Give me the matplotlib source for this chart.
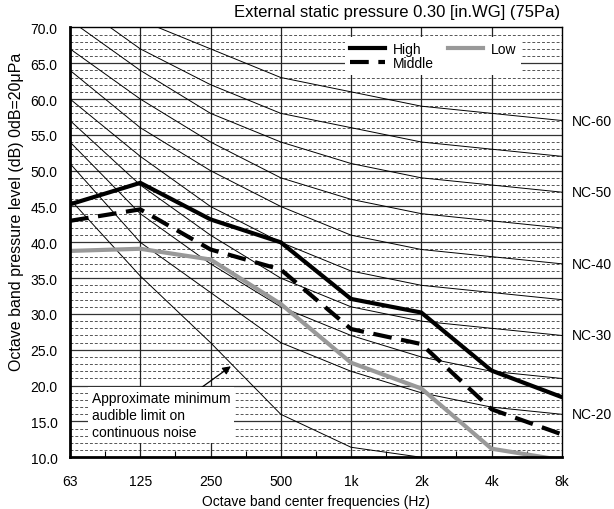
import matplotlib
matplotlib.use("Agg")
import matplotlib.pyplot as plt
import numpy as np

plt.rcParams['font.family'] = ['Liberation Sans', 'DejaVu Sans']

# octave bands
bands = ['63', '125', '250', '500', '1k', '2k', '4k', '8k']

# measured levels
high = [45.3, 48.3, 43.2, 40.0, 32.1, 30.2, 22.1, 18.4]
middle = [43.0, 44.6, 39.0, 36.2, 27.9, 25.8, 16.7, 13.2]
low = [38.8, 39.1, 37.6, 31.4, 23.2, 19.6, 11.2, 9.6]

# NC reference curves
nc_names = ['NC-20', 'NC-25', 'NC-30', 'NC-35', 'NC-40', 'NC-45', 'NC-50', 'NC-55', 'NC-60']
nc20 = [51, 40, 33, 26, 22, 19, 17, 16]
nc25 = [54, 44, 37, 31, 27, 24, 22, 21]
nc30 = [57, 48, 41, 35, 31, 29, 28, 27]
nc35 = [60, 52, 45, 40, 36, 34, 33, 32]
nc40 = [64, 56, 50, 45, 41, 39, 38, 37]
nc45 = [67, 60, 54, 49, 46, 44, 43, 42]
nc50 = [71, 64, 58, 54, 51, 49, 48, 47]
nc55 = [74, 67, 62, 58, 56, 54, 53, 52]
nc60 = [77, 71, 67, 63, 61, 59, 58, 57]
nc_curves = [nc20, nc25, nc30, nc35, nc40, nc45, nc50, nc55, nc60]
nc_labeled = ['NC-20', 'NC-30', 'NC-40', 'NC-50', 'NC-60']

# approximate minimum audible limit
audible = [46.0, 35.3, 26.0, 16.0, 11.4, 10.0]

x = np.arange(len(bands))

fig = plt.figure(figsize=(6.14, 5.10), dpi=100)
ax = fig.add_axes([0.114, 0.1014, 0.801, 0.843])

ax.set_xlim(0, 7)
ax.set_ylim(10, 70)

# grid
for v in range(11, 70):
    if v % 5 == 0:
        ax.axhline(v, color='#333333', lw=0.9, zorder=1)
    else:
        ax.axhline(v, color='#555555', lw=0.7, ls=(0, (3, 2)), zorder=1)
for xi in x[1:-1]:
    ax.axvline(xi, color='#222222', lw=0.9, zorder=1)

for name, vals in zip(nc_names, nc_curves):
    ax.plot(x, vals, color='black', lw=0.7, zorder=2)
    if name in nc_labeled:
        ax.text(7.15, vals[-1], name, fontsize=10, va='center', ha='left', clip_on=False)

ax.plot(x[:len(audible)], audible, color='black', lw=0.7, zorder=2)

l_low, = ax.plot(x, low, color='#999999', lw=3, solid_joinstyle='miter', zorder=3, label='Low')
l_mid, = ax.plot(x, middle, color='black', lw=3, ls=(0, (4.5, 2.3)), zorder=4, label='Middle')
l_high, = ax.plot(x, high, color='black', lw=3, solid_joinstyle='miter', zorder=5, label='High')

leg = ax.legend(handles=[l_high, l_mid, l_low], ncol=2, loc='upper left',
                bbox_to_anchor=(0.545, 0.993), fontsize=10, frameon=True,
                fancybox=False, edgecolor='none', facecolor='white', framealpha=1,
                handlelength=2.5, columnspacing=1.0, labelspacing=0.0,
                borderpad=0.35, handletextpad=0.6)
leg.set_zorder(6)

ax.annotate('Approximate minimum\naudible limit on\ncontinuous noise',
            xy=(2.29, 22.7), xytext=(0.31, 19.3), fontsize=10, va='top', ha='left',
            linespacing=1.3, zorder=7,
            bbox=dict(boxstyle='square,pad=0.25', fc='white', ec='none'),
            arrowprops=dict(arrowstyle='-|>', color='black', lw=0.9,
                            mutation_scale=12, shrinkA=0, shrinkB=0,
                            relpos=(0.76, 1.0)))

ax.set_xticks(x)
ax.set_xticklabels(bands, fontsize=10)
ax.set_xticks(x[:-1] + 0.5, minor=True)
ax.set_yticks(np.arange(10, 71, 5))
ax.set_yticklabels(['%.1f' % v for v in np.arange(10, 71, 5)], fontsize=10)
ax.tick_params(axis='both', which='major', length=0)
ax.tick_params(axis='x', which='major', pad=12)
ax.tick_params(axis='y', which='major', pad=9)
ax.tick_params(axis='x', which='minor', direction='in', length=4, width=0.8)

for side in ['left', 'bottom']:
    ax.spines[side].set_linewidth(2)
for side in ['top', 'right']:
    ax.spines[side].set_linewidth(1)
for s in ax.spines.values():
    s.set_zorder(8)

ax.set_xlabel('Octave band center frequencies (Hz)', fontsize=10, labelpad=4)
ax.set_ylabel('Octave band pressure level (dB) 0dB=20\u03bcPa', fontsize=11.5)
ax.yaxis.set_label_coords(-0.094, 0.573)
fig.text(0.913, 0.975, 'External static pressure 0.30 [in.WG] (75Pa)', fontsize=12,
         ha='right', va='center')

fig.savefig('out.png', dpi=100)
